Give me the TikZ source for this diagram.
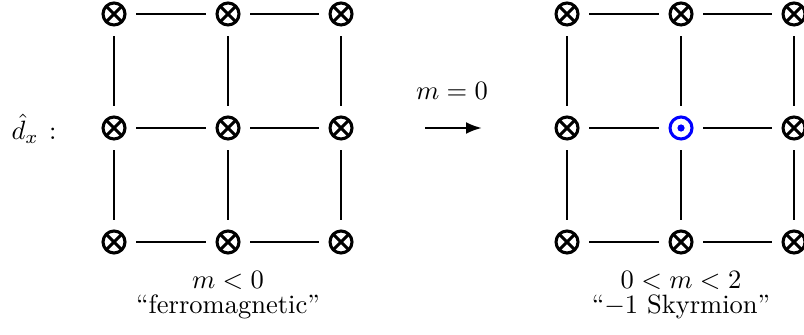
\documentclass[tikz,border=0pt]{standalone}
\usetikzlibrary{arrows.meta}
\begin{document}
\begin{tikzpicture}[x=0.377pt,y=-0.377pt,
  spin/.style={circle,draw,line width=1.15pt,minimum size=22*0.377pt,inner sep=0pt,outer sep=0pt},
  sin/.style={spin,path picture={\draw[line width=1.15pt]
     (path picture bounding box.south west) -- (path picture bounding box.north east)
     (path picture bounding box.north west) -- (path picture bounding box.south east);}},
  sout/.style={spin,draw=blue,path picture={\fill[blue] (path picture bounding box.center) circle (3.6*0.377pt);}},
  bond/.style={line width=1pt,shorten <=4.3pt,shorten >=4.3pt},
  lab/.style={inner sep=0pt,font=\normalsize}]
\clip (0,0) rectangle (804,335);
% left lattice
\foreach \i/\x in {1/114,2/228,3/341}{
  \foreach \j/\y in {1/14,2/128,3/242}{
    \node[sin] (L\i\j) at (\x,\y) {};
  }
}
% right lattice
\foreach \i/\x in {1/567,2/681,3/794}{
  \foreach \j/\y in {1/14,2/128,3/242}{
    \ifnum\i\j=22
      \node[sout] (R\i\j) at (\x,\y) {};
    \else
      \node[sin] (R\i\j) at (\x,\y) {};
    \fi
  }
}
\foreach \g in {L,R}{
  \foreach \j in {1,2,3}{
    \draw[bond] (\g1\j) -- (\g2\j);
    \draw[bond] (\g2\j) -- (\g3\j);
  }
  \foreach \i in {1,2,3}{
    \draw[bond] (\g\i1) -- (\g\i2);
    \draw[bond] (\g\i2) -- (\g\i3);
  }
}
% labels
\node[lab] (dx) at (34,129) {$\hat{d}_x\mkern2mu:$};
\node[lab] (m0) at (452,91) {$m=0$};
\coordinate (as) at (425,128);
\coordinate (ae) at (482,128);
\draw[line width=1pt,-{Latex[length=6pt,width=4.5pt]}] (as) -- (ae);
\node[lab] (ml) at (228,280) {$m<0$};
\node[lab] (fm) at (228,307) {``ferromagnetic''};
\node[lab] (mr) at (681,280) {$0<m<2$};
\node[lab] (sk) at (681,307) {``$-1$ Skyrmion''};
\end{tikzpicture}
\end{document}
